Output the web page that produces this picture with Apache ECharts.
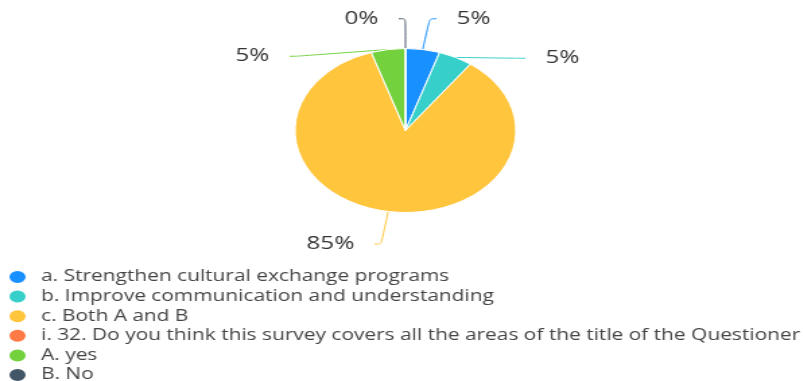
<!DOCTYPE html>
<html>
<head>
<meta charset="utf-8">
<script src="https://cdn.jsdelivr.net/npm/echarts@6/dist/echarts.min.js"></script>
<style>
  html, body { margin: 0; padding: 0; background: #fff; }
  #wrap { width: 803px; height: 381px; overflow: hidden; }
  /* chart is drawn narrower and stretched horizontally across the page */
  #chart { width: 596px; height: 381px; transform: scaleX(1.347); transform-origin: 0 0; }
</style>
</head>
<body>
<div id="wrap"><div id="chart"></div></div>
<script>
const categories = [
  'a. Strengthen cultural exchange programs',
  'b. Improve communication and understanding',
  'c. Both A and B',
  'i. 32. Do you think this survey covers all the areas of the title of the Questioner',
  'A. yes',
  'B. No'
];
// percentage of responses; '-' marks an option with no answer recorded
const values = [5, 5, 85, '-', 5, 0];
const colors = ['#1890ff', '#36cfca', '#ffc53d', '#ff7a45', '#73d13d', '#435667'];

const chart = echarts.init(document.getElementById('chart'));
chart.setOption({
  color: colors,
  textStyle: { fontFamily: '"Open Sans", sans-serif' },
  legend: {
    orient: 'vertical',
    left: 5,
    top: 269,
    height: 300,
    padding: 0,
    itemGap: 3.6,
    itemWidth: 25,
    itemHeight: 14,
    icon: 'circle',
    textStyle: { fontSize: 15.5, color: '#444' },
    data: categories
  },
  series: [{
    type: 'pie',
    center: [301, 130.5],
    radius: 82,
    startAngle: 90,
    clockwise: true,
    avoidLabelOverlap: true,
    itemStyle: { borderColor: '#fff', borderWidth: 1 },
    label: {
      show: true,
      formatter: '{d}%',
      fontSize: 18,
      lineHeight: 27,
      color: '#333',
      padding: [8.5, 10, 0, 10]
    },
    labelLine: { show: true, smooth: true, length: 33, length2: 5 },
    data: categories.map((name, i) => ({ name: name, value: values[i] }))
  }]
});
</script>
</body>
</html>
